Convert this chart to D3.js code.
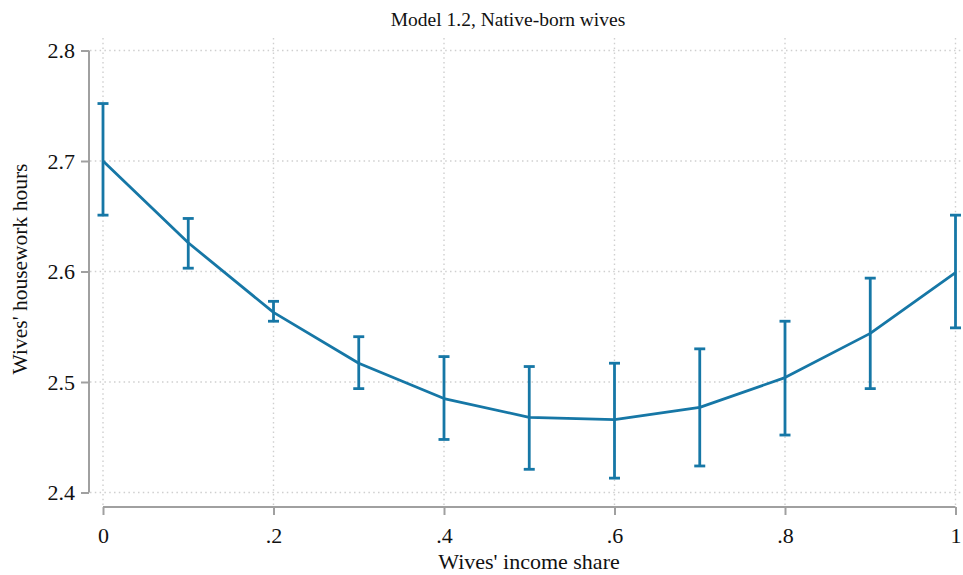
<!DOCTYPE html>
<html>
<head>
<meta charset="utf-8">
<script src="https://cdn.jsdelivr.net/npm/d3@7"></script>
<style>
  body { margin: 0; background: #fff; }
  svg text { font-family: "Liberation Serif", "Times New Roman", serif; fill: #111; }
</style>
</head>
<body>
<div id="chart"></div>
<script>
// income share levels and predicted housework hours (with 95% CI)
var shares = [0, 0.1, 0.2, 0.3, 0.4, 0.5, 0.6, 0.7, 0.8, 0.9, 1];
var predicted = [2.700, 2.626, 2.563, 2.517, 2.485, 2.468, 2.466, 2.477, 2.504, 2.544, 2.599];
var ciLow = [2.651, 2.603, 2.555, 2.494, 2.448, 2.421, 2.413, 2.424, 2.452, 2.494, 2.549];
var ciHigh = [2.752, 2.648, 2.573, 2.541, 2.523, 2.514, 2.517, 2.530, 2.555, 2.594, 2.651];

var xTicks = [0, 0.2, 0.4, 0.6, 0.8, 1];
var yTicks = [2.4, 2.5, 2.6, 2.7, 2.8];

var W = 963, H = 575;
var blue = "#1677a6";

var svg = d3.select("#chart").append("svg")
    .attr("width", W)
    .attr("height", H);

var x = d3.scaleLinear().domain([0, 1]).range([103, 955.5]);
var y = d3.scaleLinear().domain([2.4, 2.8]).range([492.5, 50.5]);

// gridlines
svg.append("g").selectAll("line")
    .data(yTicks)
  .enter().append("line")
    .attr("x1", 90).attr("x2", 962)
    .attr("y1", function(d) { return y(d); })
    .attr("y2", function(d) { return y(d); })
    .attr("stroke", "#cfcfcf")
    .attr("stroke-width", 1.4)
    .attr("stroke-dasharray", "1.5,3.3");

svg.append("g").selectAll("line")
    .data(xTicks)
  .enter().append("line")
    .attr("x1", function(d) { return x(d); })
    .attr("x2", function(d) { return x(d); })
    .attr("y1", 38).attr("y2", 505)
    .attr("stroke", "#cfcfcf")
    .attr("stroke-width", 1.4)
    .attr("stroke-dasharray", "1.5,3.3");

// axes
var yAxis = d3.axisLeft(y)
    .tickValues(yTicks)
    .tickSize(8)
    .tickPadding(6)
    .tickFormat(d3.format(".1f"));

var xAxis = d3.axisBottom(x)
    .tickValues(xTicks)
    .tickSize(8)
    .tickPadding(6)
    .tickFormat(function(d) { return d === 0 || d === 1 ? String(d) : String(d).replace(/^0/, ""); });

var gy = svg.append("g")
    .attr("transform", "translate(89,0)")
    .call(yAxis);

var gx = svg.append("g")
    .attr("transform", "translate(0,507)")
    .call(xAxis);

[gy, gx].forEach(function(g) {
  g.select(".domain").attr("stroke", "#a0a0a0").attr("stroke-width", 2)
    .attr("d", function() {
      return g === gy ? "M0," + y(2.4) + "V" + y(2.8) : "M" + x(0) + ",0H" + x(1);
    });
  g.selectAll(".tick line").attr("stroke", "#a0a0a0").attr("stroke-width", 2);
  g.selectAll(".tick text")
    .attr("font-family", "Liberation Serif, serif")
    .attr("font-size", 22)
    .attr("fill", "#111");
});
gx.selectAll(".tick text").attr("dy", "1.0em");
gy.selectAll(".tick text").attr("dy", "0.34em");

// error bars
var bars = svg.append("g").selectAll("g")
    .data(shares)
  .enter().append("g");

bars.append("line")
    .attr("x1", function(d) { return x(d); })
    .attr("x2", function(d) { return x(d); })
    .attr("y1", function(d, i) { return y(ciLow[i]); })
    .attr("y2", function(d, i) { return y(ciHigh[i]); })
    .attr("stroke", blue)
    .attr("stroke-width", 2.8);

[ciLow, ciHigh].forEach(function(arr) {
  bars.append("line")
      .attr("x1", function(d) { return x(d) - 5.5; })
      .attr("x2", function(d) { return x(d) + 5.5; })
      .attr("y1", function(d, i) { return y(arr[i]); })
      .attr("y2", function(d, i) { return y(arr[i]); })
      .attr("stroke", blue)
      .attr("stroke-width", 2.8);
});

// prediction line
var line = d3.line()
    .x(function(d) { return x(d); })
    .y(function(d, i) { return y(predicted[i]); });

svg.append("path")
    .datum(shares)
    .attr("d", line)
    .attr("fill", "none")
    .attr("stroke", blue)
    .attr("stroke-width", 2.8)
    .attr("stroke-linejoin", "round");

// titles
svg.append("text")
    .attr("x", 508).attr("y", 26)
    .attr("text-anchor", "middle")
    .attr("font-size", 19.5)
    .text("Model 1.2, Native-born wives");

svg.append("text")
    .attr("x", 529).attr("y", 569)
    .attr("text-anchor", "middle")
    .attr("font-size", 22)
    .text("Wives' income share");

svg.append("text")
    .attr("transform", "translate(27,269) rotate(-90)")
    .attr("text-anchor", "middle")
    .attr("font-size", 21.5)
    .text("Wives' housework hours");
</script>
</body>
</html>
